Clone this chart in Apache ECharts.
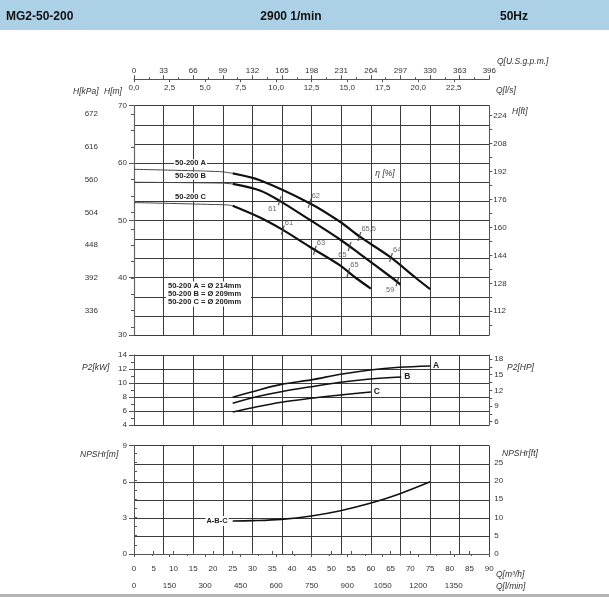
<!DOCTYPE html>
<html><head><meta charset="utf-8">
<script src="https://cdn.jsdelivr.net/npm/echarts@6/dist/echarts.min.js"></script>
<style>html,body{margin:0;padding:0;background:#fff}#c{width:609px;height:597px}</style>
</head><body><div id="c"></div>
<script>
// ---- data (Q in m3/h) ----
const qA = [0, 21.7, 25, 31.9, 44.5, 52.1, 57.1, 64.7, 71.5, 75];
const hA = [58.9, 58.5, 58.2, 57.0, 53.0, 49.8, 47.2, 43.7, 39.9, 38.0];
const qB = [0, 22, 25, 31.9, 36.9, 44.5, 52.1, 57.1, 65.5, 67.5];
const hB = [56.65, 56.5, 56.35, 55.2, 53.4, 50.1, 46.7, 44.2, 39.9, 38.8];
const qC = [0, 23.4, 25, 31.9, 37.8, 44.5, 52.1, 56.3, 60];
const hC = [53.1, 52.7, 52.55, 50.5, 48.3, 45.4, 42.2, 39.9, 38.1];

const effQ = [44.5, 57.1, 65.1, 36.9, 54.6, 66.7, 37.7, 45.8, 54.3];
const effH = [53.0, 47.2, 43.5, 53.4, 45.45, 39.3, 48.3, 44.8, 40.9];
const effText = ['62', '65,5', '64', '61', '65', '59', '61', '63', '65'];
const effSide = ['ur', 'ur', 'ur', 'll', 'll', 'll', 'ur', 'ur', 'ur'];

const p2QA = [25, 30, 37.3, 44.9, 52.3, 59.8, 67.2, 75];
const p2A  = [7.95, 8.75, 9.8, 10.45, 11.25, 11.86, 12.24, 12.43];
const p2QB = [25, 30, 37.3, 44.9, 52.3, 59.8, 67.7];
const p2B  = [7.1, 7.9, 8.76, 9.47, 10.1, 10.57, 10.86];
const p2QC = [25, 30, 37.3, 44.9, 52.3, 60];
const p2C  = [5.86, 6.47, 7.24, 7.81, 8.29, 8.71];

const npQ = [25, 30, 37.3, 44.9, 52.3, 59.8, 67.2, 75];
const npM = [2.74, 2.77, 2.88, 3.16, 3.6, 4.21, 4.99, 6.0];

const kpaLabels = [336, 392, 448, 504, 560, 616, 672];
const kpaTicks  = [308, 336, 364, 392, 420, 448, 476, 504, 532, 560, 588, 616, 644, 672];
const ftLabels  = [112, 128, 144, 160, 176, 192, 208, 224];
const ftTicks   = [104, 112, 120, 128, 136, 144, 152, 160, 168, 176, 184, 192, 200, 208, 216, 224];
const hpLabels  = [6, 9, 12, 15, 18];
const hpTicks   = [6, 7.5, 9, 10.5, 12, 13.5, 15, 16.5, 18];
const npftLabels = [0, 5, 10, 15, 20, 25];
const npftTicks  = [0, 2.5, 5, 7.5, 10, 12.5, 15, 17.5, 20, 22.5, 25, 27.5];

const SPLIT = 25;
const M2KPA = 9.81, M2FT = 3.28084, KW2HP = 1.341;

// ---- styles ----
const FONT = "'Liberation Sans', Arial, sans-serif";
const GRIDC = '#3a3a3a';
const AXC = '#555';
const LBL = {fontSize: 8, color: '#333', fontFamily: FONT};
const pairs = (q, h) => q.map((x, i) => [x, h[i]]);
const thinPart = (q, h) => pairs(q, h).filter(p => p[0] <= SPLIT);
const thickPart = (q, h) => pairs(q, h).filter(p => p[0] >= SPLIT);

function gridX(gi) {
  return {type: 'value', gridIndex: gi, min: 0, max: 90, interval: 7.5,
    axisLine: {show: false}, axisTick: {show: false}, axisLabel: {show: false},
    splitLine: {show: true, lineStyle: {color: GRIDC, width: 1}}};
}
const ax = (o) => Object.assign({type: 'value', splitLine: {show: false},
  axisLine: {show: true, lineStyle: {color: AXC, width: 1}}}, o);

const chart = echarts.init(document.getElementById('c'), null, {renderer: 'canvas'});

const thinStyle = {width: 1, color: '#444'};
const thickStyle = {width: 2.2, color: '#111'};
const hSeries = [];
[[qA, hA], [qB, hB], [qC, hC]].forEach(([q, h]) => {
  hSeries.push({type: 'line', xAxisIndex: 0, yAxisIndex: 1, data: thinPart(q, h), smooth: 0.3,
    symbol: 'none', lineStyle: thinStyle, z: 3, silent: true});
  hSeries.push({type: 'line', xAxisIndex: 0, yAxisIndex: 1, data: thickPart(q, h), smooth: 0.3,
    symbol: 'none', lineStyle: thickStyle, z: 3, silent: true});
});

const effData = effQ.map((q, i) => {
  const ur = effSide[i] === 'ur';
  return {value: [q, effH[i]], label: {
    show: true, formatter: effText[i], fontSize: 7.5, color: '#444', fontFamily: FONT,
    position: ur ? [4, -3] : [-1, 13], align: ur ? 'left' : 'right', verticalAlign: 'middle'}};
});

const endLbl = (t) => ({show: true, formatter: t, fontSize: 8.5, fontWeight: 'bold',
  color: '#222', fontFamily: FONT, distance: 3});
const p2Style = {width: 1.6, color: '#111'};
const HDR_FONT = "'Liberation Sans', Arial, sans-serif";

const option = {
  animation: false,
  grid: [
    {left: 134, top: 105.7, width: 355.3, height: 229.3},
    {left: 134, top: 355, width: 355.3, height: 70},
    {left: 134, top: 445.7, width: 355.3, height: 108.3}
  ],
  xAxis: [
    gridX(0), gridX(1), gridX(2),
    ax({gridIndex: 0, position: 'top', offset: 26.5, min: 0, max: 396, interval: 33,
      axisTick: {show: true, length: 4, lineStyle: {color: AXC}},
      minorTick: {show: true, splitNumber: 2, length: 2, lineStyle: {color: AXC}},
      axisLabel: Object.assign({margin: 4}, LBL)}),
    ax({gridIndex: 0, position: 'top', offset: 26.5, min: 0, max: 25, interval: 2.5,
      axisLine: {show: false},
      axisTick: {show: true, inside: true, length: 3, lineStyle: {color: AXC}},
      axisLabel: Object.assign({margin: 5, inside: true, showMaxLabel: false,
        formatter: v => v.toFixed(1).replace('.', ',')}, LBL)}),
    ax({gridIndex: 2, position: 'bottom', offset: 23.3, min: 0, max: 90, interval: 5,
      axisTick: {show: true, inside: true, length: 3, lineStyle: {color: AXC}},
      axisLabel: Object.assign({margin: 5, inside: true, formatter: v => String(v)}, LBL)}),
    ax({gridIndex: 2, position: 'bottom', offset: 23.3, min: 0, max: 1500, interval: 150,
      axisLine: {show: false},
      axisTick: {show: true, length: 3, lineStyle: {color: AXC}},
      minorTick: {show: true, splitNumber: 2, length: 2, lineStyle: {color: AXC}},
      axisLabel: Object.assign({margin: 4, showMaxLabel: false, formatter: v => String(v)}, LBL)})
  ],
  yAxis: [
    // 0 H grid lines
    {type: 'value', gridIndex: 0, min: 0, max: 12, interval: 1, axisLine: {show: false},
      axisTick: {show: false}, axisLabel: {show: false},
      splitLine: {show: true, lineStyle: {color: GRIDC, width: 1}}},
    // 1 H [m]
    ax({gridIndex: 0, position: 'left', min: 30, max: 70, interval: 10,
      axisTick: {show: true, length: 5, lineStyle: {color: AXC}},
      axisLabel: Object.assign({margin: 7}, LBL)}),
    // 2 H [kPa]
    ax({gridIndex: 0, position: 'left', offset: 31, min: 30 * M2KPA, max: 70 * M2KPA,
      axisLine: {show: true, lineStyle: {color: '#666', width: 1.2}},
      axisTick: {show: true, length: 3, customValues: kpaTicks, lineStyle: {color: AXC}},
      axisLabel: Object.assign({margin: 5, customValues: kpaLabels}, LBL)}),
    // 3 H [ft]
    ax({gridIndex: 0, position: 'right', min: 30 * M2FT, max: 70 * M2FT,
      axisTick: {show: true, length: 3, customValues: ftTicks, lineStyle: {color: AXC}},
      axisLabel: Object.assign({margin: 4, customValues: ftLabels}, LBL)}),
    // 4 P2 [kW]
    ax({gridIndex: 1, position: 'left', min: 4, max: 14, interval: 2,
      axisTick: {show: true, length: 5, lineStyle: {color: AXC}},
      minorTick: {show: true, splitNumber: 2, length: 3, lineStyle: {color: AXC}},
      axisLabel: Object.assign({margin: 7}, LBL),
      splitLine: {show: true, lineStyle: {color: GRIDC, width: 1}}}),
    // 5 P2 [HP]
    ax({gridIndex: 1, position: 'right', min: 4 * KW2HP, max: 14 * KW2HP,
      axisTick: {show: true, length: 3, customValues: hpTicks, lineStyle: {color: AXC}},
      axisLabel: Object.assign({margin: 5, customValues: hpLabels}, LBL)}),
    // 6 NPSH grid lines
    {type: 'value', gridIndex: 2, min: 0, max: 6, interval: 1, axisLine: {show: false},
      axisTick: {show: false}, axisLabel: {show: false},
      splitLine: {show: true, lineStyle: {color: GRIDC, width: 1}}},
    // 7 NPSH [m]
    ax({gridIndex: 2, position: 'left', min: 0, max: 9, interval: 3,
      axisTick: {show: true, length: 5, lineStyle: {color: AXC}},
      axisLabel: Object.assign({margin: 7}, LBL)}),
    // 8 NPSH [ft]
    ax({gridIndex: 2, position: 'right', min: 0, max: 9 * M2FT,
      axisTick: {show: true, length: 3, customValues: npftTicks, lineStyle: {color: AXC}},
      axisLabel: Object.assign({margin: 5, customValues: npftLabels}, LBL)})
  ],
  series: hSeries.concat([
    {type: 'scatter', xAxisIndex: 0, yAxisIndex: 1, data: effData, z: 4, silent: true,
      symbol: 'path://M0,10 L1.3,10 L4,0 L2.7,0 Z', symbolSize: [4, 9],
      itemStyle: {color: '#333'}},
    {type: 'line', xAxisIndex: 1, yAxisIndex: 4, data: pairs(p2QA, p2A), smooth: 0.35,
      symbol: 'none', lineStyle: p2Style, endLabel: endLbl('A'), silent: true},
    {type: 'line', xAxisIndex: 1, yAxisIndex: 4, data: pairs(p2QB, p2B), smooth: 0.35,
      symbol: 'none', lineStyle: p2Style, endLabel: endLbl('B'), silent: true},
    {type: 'line', xAxisIndex: 1, yAxisIndex: 4, data: pairs(p2QC, p2C), smooth: 0.35,
      symbol: 'none', lineStyle: p2Style, endLabel: endLbl('C'), silent: true},
    {type: 'line', xAxisIndex: 2, yAxisIndex: 7, data: pairs(npQ, npM), smooth: 0.35,
      symbol: 'none', lineStyle: p2Style, silent: true,
      markPoint: {symbol: 'circle', symbolSize: 0, silent: true,
        label: {show: true, position: 'left', distance: 4, formatter: 'A-B-C', fontSize: 7.5,
          fontWeight: 'bold', color: '#222', fontFamily: FONT, backgroundColor: '#fff', padding: [1, 1]},
        data: [{coord: [npQ[0], npM[0]]}]}}
  ]),
  graphic: [
    {type: 'rect', z: 100, shape: {x: 0, y: 0, width: 609, height: 30}, style: {fill: '#acd0e6'}},
    {type: 'text', z: 101, x: 6, y: 16.5, style: {text: 'MG2-50-200', fontSize: 12, fontWeight: 'bold',
      fontFamily: HDR_FONT, fill: '#111', verticalAlign: 'middle'}},
    {type: 'text', z: 101, x: 291, y: 16.5, style: {text: '2900 1/min', fontSize: 12, fontWeight: 'bold',
      fontFamily: HDR_FONT, fill: '#111', align: 'center', verticalAlign: 'middle'}},
    {type: 'text', z: 101, x: 514, y: 16.5, style: {text: '50Hz', fontSize: 12, fontWeight: 'bold',
      fontFamily: HDR_FONT, fill: '#111', align: 'center', verticalAlign: 'middle'}},
    {type: 'rect', z: 100, shape: {x: 0, y: 594, width: 609, height: 3}, style: {fill: '#b5b5b5'}},

    ...[
      ['Q[U.S.g.p.m.]', 497, 62], ['Q[l/s]', 496, 91], ['H[kPa]', 73, 92], ['H[m]', 104, 92],
      ['H[ft]', 512, 112], ['P2[kW]', 82, 368], ['P2[HP]', 507, 368], ['NPSHr[m]', 80, 455],
      ['NPSHr[ft]', 502, 454], ['Q[m³/h]', 496, 575], ['Q[l/min]', 496, 587]
    ].map(([t, x, y]) => ({type: 'text', z: 101, x, y, style: {text: t, fontSize: 8.5,
      fontStyle: 'italic', fontFamily: FONT, fill: '#333', verticalAlign: 'middle'}})),

    ...[['50-200 A', 163.3], ['50-200 B', 175.7], ['50-200 C', 196.7]].map(([t, y]) => ({
      type: 'text', z: 101, x: 190.5, y, style: {text: t, fontSize: 7.5, fontWeight: 'bold',
        fontFamily: FONT, fill: '#222', align: 'center', verticalAlign: 'middle',
        backgroundColor: '#fff', padding: [0, 1]}})),

    {type: 'text', z: 101, x: 385, y: 173.5, style: {text: 'η [%]', fontSize: 8.5, fontStyle: 'italic',
      fontFamily: FONT, fill: '#333', align: 'center', verticalAlign: 'middle'}},

    {type: 'rect', z: 100, shape: {x: 166, y: 281.5, width: 85, height: 25}, style: {fill: '#fff'}},
    ...[['50-200 A = Ø 214mm', 286], ['50-200 B = Ø 209mm', 294], ['50-200 C = Ø 200mm', 302.3]].map(([t, y]) => ({
      type: 'text', z: 101, x: 168, y, style: {text: t, fontSize: 7.5, fontWeight: 'bold',
        fontFamily: FONT, fill: '#222', verticalAlign: 'middle'}}))
  ]
};
chart.setOption(option);
</script>
</body></html>
